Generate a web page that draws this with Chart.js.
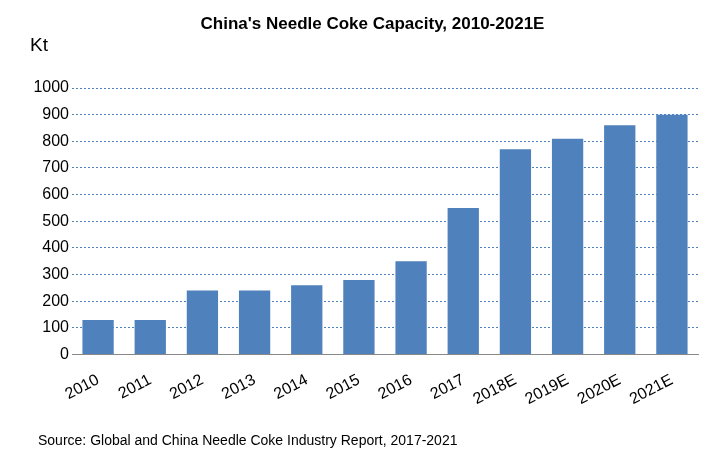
<!DOCTYPE html>
<html><head><meta charset="utf-8">
<script src="https://cdn.jsdelivr.net/npm/chart.js@4/dist/chart.umd.min.js"></script>
<style>html,body{margin:0;padding:0;background:#fff}#w{position:relative;width:725px;height:455px}
.t{position:absolute;font-family:"Liberation Sans",Arial,sans-serif;color:#000}</style>
</head><body><div id="w">
<canvas id="c" width="725" height="455"></canvas>
<div class="t" style="left:0;width:725px;top:14px;text-align:center;font-weight:bold;font-size:17px;padding-left:10px">China's Needle Coke Capacity, 2010-2021E</div>
<div class="t" style="left:30px;top:34px;font-size:19px">Kt</div>
<div class="t" style="left:38px;top:432px;font-size:14px">Source: Global and China Needle Coke Industry Report, 2017-2021</div>
</div>
<script>
const categories=["2010","2011","2012","2013","2014","2015","2016","2017","2018E","2019E","2020E","2021E"];
const capacity=[130,130,240,240,260,280,350,550,770,810,860,900];
new Chart(document.getElementById('c'),{type:'bar',
data:{labels:categories,datasets:[{data:capacity,backgroundColor:'#4f81bd',categoryPercentage:1,barPercentage:0.6}]},
options:{responsive:false,animation:false,
layout:{padding:{top:88,right:27,bottom:38,left:0}},
plugins:{legend:{display:false},tooltip:{enabled:false}},
scales:{x:{grid:{display:false},border:{color:'#888'},ticks:{color:'#000',font:{family:'Liberation Sans',size:16},padding:8}},
y:{min:0,max:1000,ticks:{stepSize:100,color:'#000',font:{family:'Liberation Sans',size:16},callback:v=>String(v)},border:{display:false,dash:[2,2]},
grid:{color:'#4f81bd',lineWidth:1,tickLength:0}, afterFit(s){s.width=72;}}}}
});
</script></body></html>
